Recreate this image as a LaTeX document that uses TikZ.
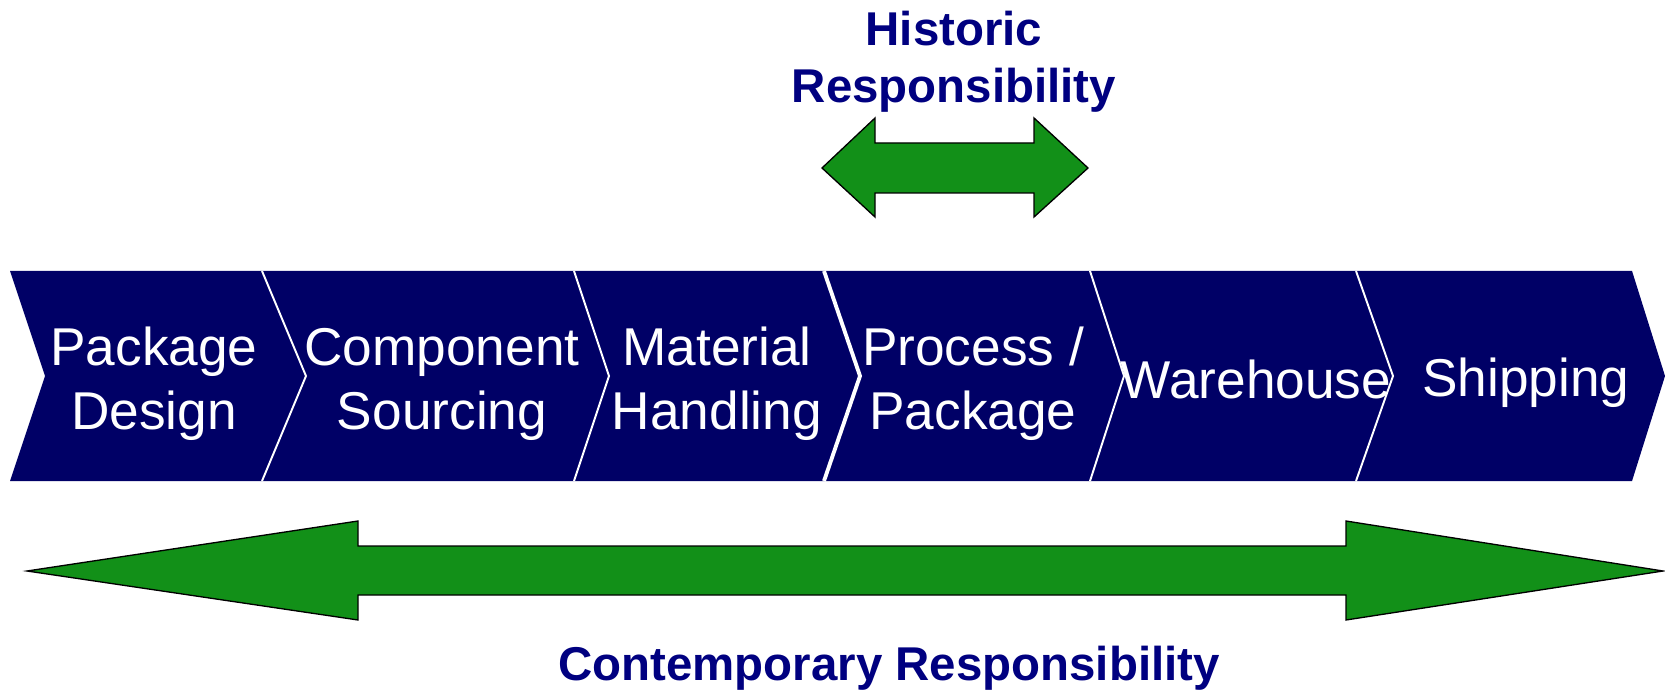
\documentclass[tikz,border=0pt]{standalone}
\usepackage{fontspec}
\setmainfont{Liberation Sans}
\usetikzlibrary{positioning}

\definecolor{chainblue}{RGB}{0,0,102}
\definecolor{labelblue}{RGB}{0,0,128}
\definecolor{arrowgreen}{RGB}{18,144,24}

\begin{document}
\begin{tikzpicture}[
  x=0.02cm, y=-0.02cm,
  stage/.style={text=white, align=center, inner sep=0pt,
                font=\fontsize{30.3}{36.4}\selectfont},
  resp/.style={text=labelblue, align=center, inner sep=0pt,
               font=\bfseries\fontsize{27}{32.4}\selectfont},
  sep/.style={draw=white, line width=1.1pt},
  garrow/.style={fill=arrowgreen, draw=black, line width=0.75pt, line join=miter}
]
\useasboundingbox (0,0) rectangle (1665,692);

% value chain band
\fill[chainblue] (10,271) -- (1632,271) -- (1665,376) -- (1632,481)
  -- (10,481) -- (45,376) -- cycle;
\foreach \t/\p in {262/306, 574/609, 1090/1124, 1356/1393}
  \draw[sep] (\t,271) -- (\p,376) -- (\t,481);
\draw[sep, line width=2.2pt] (824,271) -- (860,376) -- (824,481);

% stages
\node[stage] (design)    at (154,384)  {Package\\Design};
\node[stage] (sourcing)  at (442,384)  {Component\\Sourcing};
\node[stage] (handling)  at (717,384)  {Material\\Handling};
\node[stage] (process)   at (973,384)  {Process /\\Package};
\node[stage] (warehouse) at (1256,379) {Warehouse};
\node[stage] (shipping)  at (1526,383) {Shipping};

% historic span
\node[resp] (historic) at (954,62) {Historic\\Responsibility};
\draw[garrow] (822,168) -- (875,118) -- (875,143) -- (1034,143) -- (1034,118)
  -- (1088,168) -- (1034,217) -- (1034,193) -- (875,193) -- (875,217) -- cycle;

% contemporary span
\draw[garrow] (27,571) -- (358,521) -- (358,546) -- (1346,546) -- (1346,521)
  -- (1663,571) -- (1346,620) -- (1346,595) -- (358,595) -- (358,620) -- cycle;
\node[resp] (contemporary) at (889,668) {Contemporary Responsibility};
\end{tikzpicture}
\end{document}
